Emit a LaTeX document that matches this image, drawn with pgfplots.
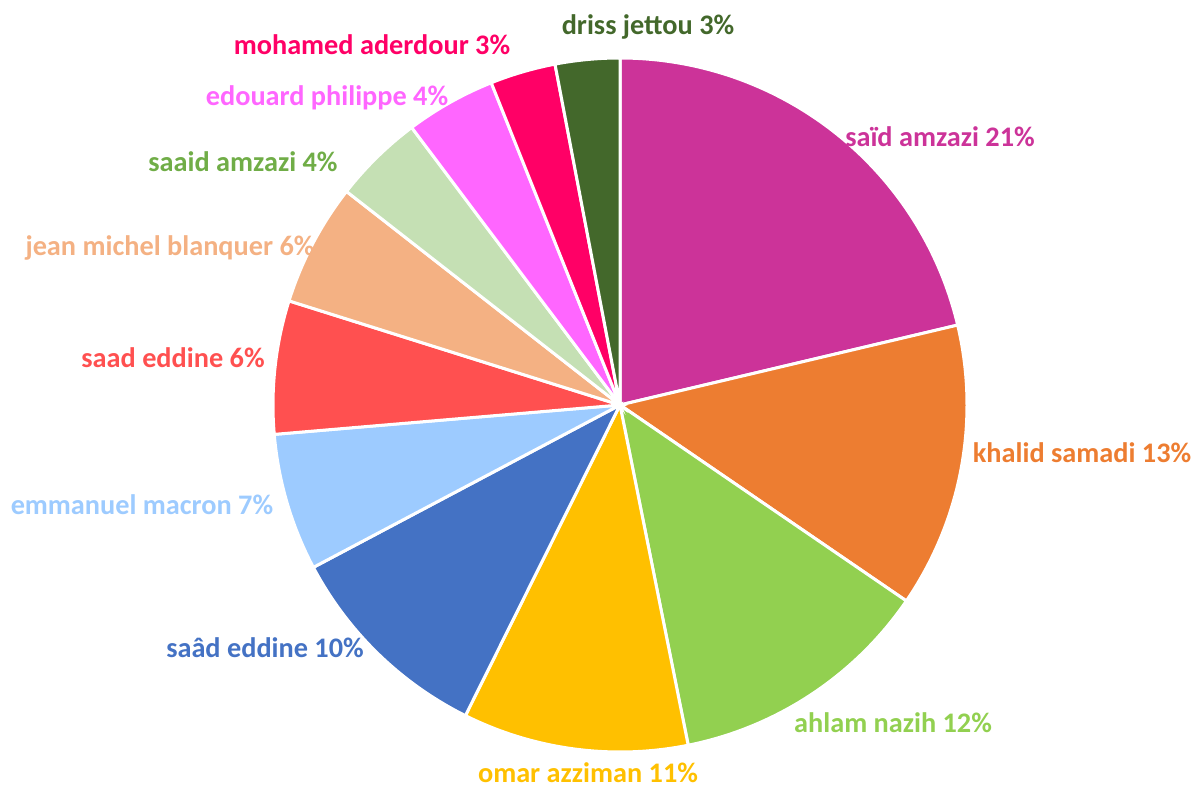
\documentclass[border=0pt]{standalone}
\usepackage{pgfplots}
\pgfplotsset{compat=1.18}
\usepackage{fontspec}
\setmainfont{Carlito}
\definecolor{cSaid}{HTML}{CC3399}
\definecolor{cKhalid}{HTML}{ED7D31}
\definecolor{cAhlam}{HTML}{92D050}
\definecolor{cOmar}{HTML}{FFC000}
\definecolor{cSaad}{HTML}{4472C4}
\definecolor{cEmm}{HTML}{9DCBFF}
\definecolor{cSaadE}{HTML}{FF5050}
\definecolor{cJean}{HTML}{F4B183}
\definecolor{cSaaid}{HTML}{C5E0B4}
\definecolor{cSaaidT}{HTML}{70AD47}
\definecolor{cEdou}{HTML}{FF66FF}
\definecolor{cMoha}{HTML}{FF0066}
\definecolor{cDriss}{HTML}{43682B}
% #1 = cumulative share before the slice, #2 = share of the slice, #3 = colour
\newcommand{\slice}[3]{%
  \addplot[fill=#3, draw=white, line width=1.5bp, domain={90-3.6*(#1+#2)}:{90-3.6*(#1)}, samples=90, variable=\t]
    ({620+347*cos(\t)},{-405+347*sin(\t)}) -- (axis cs:620,-405) -- cycle;}
\begin{document}
\begin{tikzpicture}
\begin{axis}[hide axis, scale only axis, width=597.5bp, height=393.5bp,
  xmin=0, xmax=1195, ymin=-787, ymax=0, clip=false]
\path (rel axis cs:0,0) rectangle (rel axis cs:1,1);
\slice{0}{21.3}{cSaid}
\slice{21.3}{13.25}{cKhalid}
\slice{34.55}{12.3}{cAhlam}
\slice{46.85}{10.5}{cOmar}
\slice{57.35}{9.9}{cSaad}
\slice{67.25}{6.4}{cEmm}
\slice{73.65}{6.2}{cSaadE}
\slice{79.85}{5.7}{cJean}
\slice{85.55}{4.2}{cSaaid}
\slice{89.75}{4.2}{cEdou}
\slice{93.95}{3.05}{cMoha}
\slice{97.0}{3.0}{cDriss}
\begin{scope}[every node/.style={font=\fontsize{14.2}{16}\selectfont\bfseries, inner sep=0pt}]
\node[text=cDriss] at (axis cs:648,-27) {driss jettou 3\%};
\node[text=cSaid] at (axis cs:940,-137) {saïd amzazi 21\%};
\node[text=cKhalid] at (axis cs:1082,-453) {khalid samadi 13\%};
\node[text=cAhlam] at (axis cs:893,-723) {ahlam nazih 12\%};
\node[text=cOmar] at (axis cs:588,-773) {omar azziman 11\%};
\node[text=cSaad] at (axis cs:265,-648) {saâd eddine 10\%};
\node[text=cEmm] at (axis cs:142,-505) {emmanuel macron 7\%};
\node[text=cSaadE] at (axis cs:173,-358) {saad eddine 6\%};
\node[text=cJean] at (axis cs:170,-248) {jean michel blanquer 6\%};
\node[text=cSaaidT] at (axis cs:243,-162) {saaid amzazi 4\%};
\node[text=cEdou] at (axis cs:327,-98) {edouard philippe 4\%};
\node[text=cMoha] at (axis cs:372,-45) {mohamed aderdour 3\%};
\end{scope}
\end{axis}
\end{tikzpicture}
\end{document}
